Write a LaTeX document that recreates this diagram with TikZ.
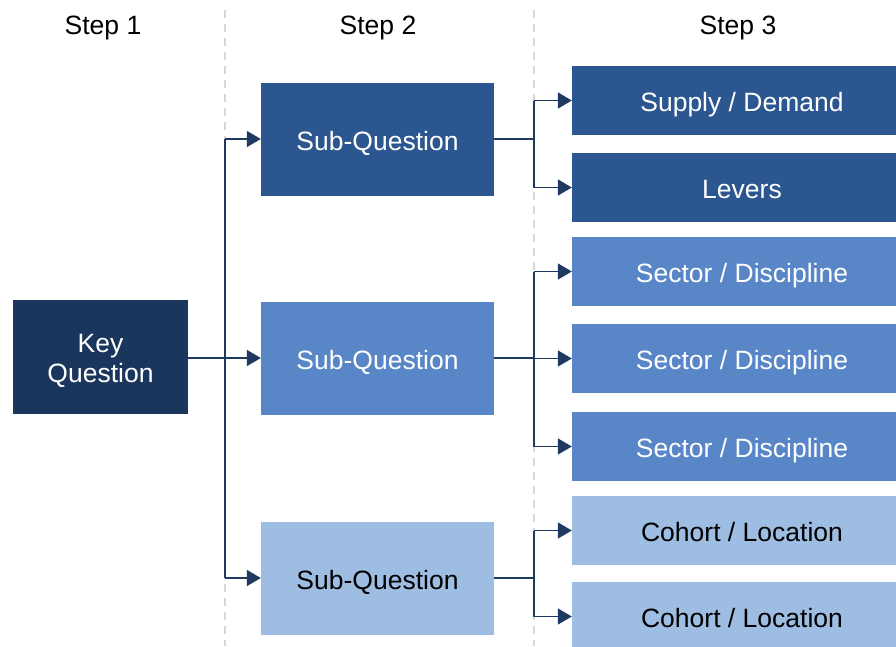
\documentclass[tikz,border=0pt]{standalone}
\usepackage{fontspec}
\setmainfont{Liberation Sans}
\usetikzlibrary{arrows.meta}
\definecolor{navy}{HTML}{1B365D}
\definecolor{blueA}{HTML}{2C5690}
\definecolor{blueB}{HTML}{5886C7}
\definecolor{blueC}{HTML}{9EBDE2}
\definecolor{linkcol}{HTML}{1F3A60}
\definecolor{guide}{HTML}{D9D9D9}
\tikzset{
  txt/.style={font=\fontsize{26.5}{30}\selectfont},
  oneline/.style={text height=24, text depth=2},
  box/.style={txt, draw=none, inner sep=0pt, align=center, text=white},
  keybox/.style={box, fill=navy, minimum width=175, minimum height=114,
    text height=53.5, text depth=2},
  subbox/.style={box, oneline, minimum width=233, minimum height=113},
  leafbox/.style={box, oneline, minimum width=340, minimum height=69},
  head/.style={txt, oneline, inner sep=0pt},
  conn/.style={draw=linkcol, line width=1.6},
  arr/.style={-{Triangle[length=14, width=16]}},
  guideline/.style={draw=guide, line width=1.5, dash pattern=on 8 off 6},
}
\begin{document}
\begin{tikzpicture}[x=1pt, y=-1pt]
\useasboundingbox (0,0) rectangle (896,646);
\clip (0,0) rectangle (896,646);

% column guides
\draw[guideline] (225,10) -- (225,646);
\draw[guideline] (534,10) -- (534,646);

% headings
\node[head] (h1) at (103,23) {Step 1};
\node[head] (h2) at (378,23) {Step 2};
\node[head] (h3) at (738,23) {Step 3};

% step 1
\node[keybox] (key) at (100.5,357) {Key\\Question};

% step 2
\node[subbox, fill=blueA] (sq1) at (377.5,139) {Sub-Question};
\node[subbox, fill=blueB] (sq2) at (377.5,358) {Sub-Question};
\node[subbox, fill=blueC, text=black] (sq3) at (377.5,578) {Sub-Question};

% step 3
\node[leafbox, fill=blueA] (r1) at (742,100.5) {Supply / Demand};
\node[leafbox, fill=blueA] (r2) at (742,187.5) {Levers};
\node[leafbox, fill=blueB] (r3) at (742,271.5) {Sector / Discipline};
\node[leafbox, fill=blueB] (r4) at (742,358.5) {Sector / Discipline};
\node[leafbox, fill=blueB] (r5) at (742,446.5) {Sector / Discipline};
\node[leafbox, fill=blueC, text=black] (r6) at (742,530.5) {Cohort / Location};
\node[leafbox, fill=blueC, text=black] (r7) at (742,616.5) {Cohort / Location};

% branch points
\coordinate (a) at (225,358);
\coordinate (b1) at (534,139);
\coordinate (b2) at (534,358);
\coordinate (b3) at (534,578);

% key question to sub-questions
\draw[conn, arr] (key.east |- a) -- (sq2.west |- a);
\draw[conn] (a |- sq1) -- (a |- sq3);
\draw[conn, arr] (a |- sq1) -- (sq1.west);
\draw[conn, arr] (a |- sq3) -- (sq3.west);

% sub-question 1
\draw[conn] (sq1.east) -- (b1);
\draw[conn] (b1 |- r1) -- (b1 |- r2);
\draw[conn, arr] (b1 |- r1) -- (r1.west);
\draw[conn, arr] (b1 |- r2) -- (r2.west);

% sub-question 2
\draw[conn] (sq2.east) -- (b2);
\draw[conn] (b2 |- r3) -- (b2 |- r5);
\draw[conn, arr] (b2 |- r3) -- (r3.west);
\draw[conn, arr] (b2 |- r4) -- (r4.west);
\draw[conn, arr] (b2 |- r5) -- (r5.west);

% sub-question 3
\draw[conn] (sq3.east) -- (b3);
\draw[conn] (b3 |- r6) -- (b3 |- r7);
\draw[conn, arr] (b3 |- r6) -- (r6.west);
\draw[conn, arr] (b3 |- r7) -- (r7.west);
\end{tikzpicture}
\end{document}
